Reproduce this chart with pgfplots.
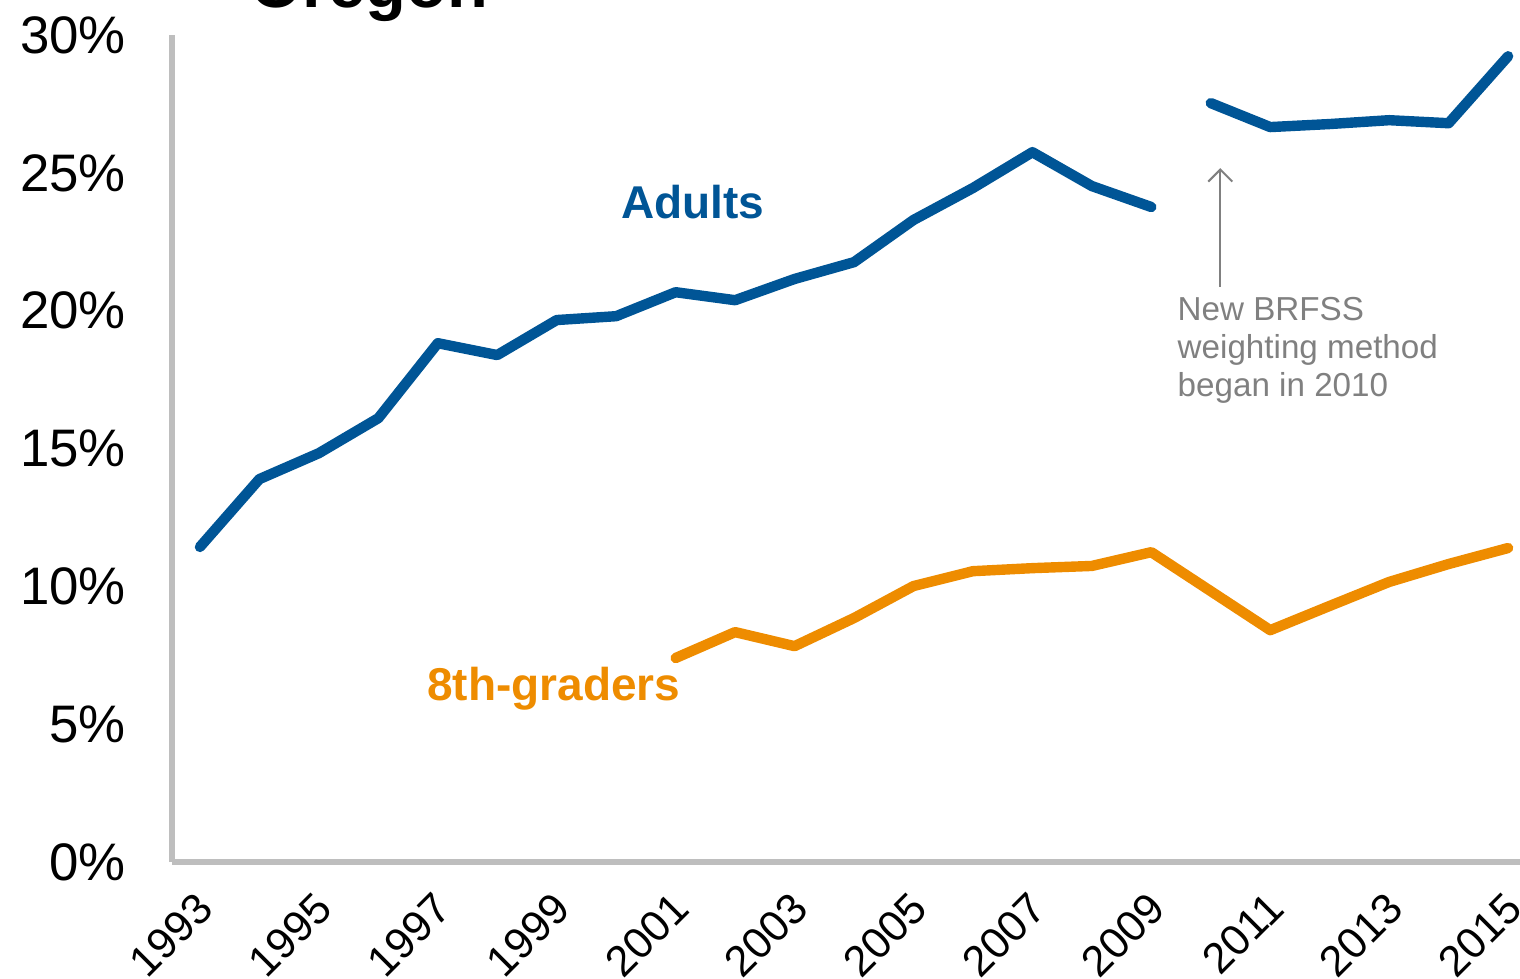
\documentclass[border=0pt]{standalone}
\usepackage{pgfplots}
\pgfplotsset{compat=1.18}
\usepackage{fontspec}
\setmainfont{Liberation Sans}
\usetikzlibrary{arrows.meta}

\definecolor{adultblue}{RGB}{0,85,150}
\definecolor{teenorange}{RGB}{238,140,0}
\definecolor{axisgray}{RGB}{190,190,190}
\definecolor{notegray}{RGB}{128,128,128}

\begin{document}
\begin{tikzpicture}
\begin{axis}[
    at={(0pt,0pt)}, anchor=south west,
    scale only axis,
    width=337pt, height=206.75pt,
    xmin=1992.53, xmax=2015.2,
    ymin=0, ymax=30,
    axis lines*=left,
    axis line style={axisgray, line width=1.3pt},
    major tick length=0pt,
    xtick={1993,1995,...,2015},
    ytick={0,5,...,30},
    /pgf/number format/assume math mode=true,
    /pgf/number format/1000 sep={},
    yticklabel={\pgfmathprintnumber{\tick}\%},
    yticklabel style={font=\fontsize{13.2}{15}\selectfont, anchor=east, xshift=-8pt},
    xticklabel style={font=\fontsize{10.8}{12}\selectfont, inner sep=0pt, xshift=1.5pt, yshift=-9.5pt, rotate=45, anchor=east},
    clip=false,
]
% Adults, before the new weighting method
\addplot[adultblue, line width=2.6pt, line cap=round, line join=round] coordinates {
  (1993,11.43)(1994,13.89)(1995,14.83)(1996,16.10)(1997,18.82)(1998,18.39)
  (1999,19.66)(2000,19.80)(2001,20.67)(2002,20.38)(2003,21.15)(2004,21.76)
  (2005,23.29)(2006,24.45)(2007,25.75)(2008,24.52)(2009,23.76)
};
% Adults, new weighting
\addplot[adultblue, line width=2.6pt, line cap=round, line join=round] coordinates {
  (2010,27.53)(2011,26.66)(2012,26.77)(2013,26.91)(2014,26.80)(2015,29.23)
};
% 8th-graders
\addplot[teenorange, line width=2.6pt, line cap=round, line join=round] coordinates {
  (2001,7.40)(2002,8.34)(2003,7.83)(2004,8.85)(2005,10.01)(2006,10.55)
  (2007,10.66)(2008,10.74)(2009,11.24)(2011,8.41)(2012,9.29)(2013,10.16)
  (2014,10.81)(2015,11.39)
};

\node[adultblue, font=\fontsize{11.5}{13}\selectfont\bfseries] at (axis cs:2001.29,23.94) {Adults};
\node[teenorange, font=\fontsize{11.5}{13}\selectfont\bfseries] at (axis cs:1998.95,6.28) {8th-graders};

\draw[notegray, line width=0.5pt, -{Straight Barb[length=3pt,width=6pt]}] (axis cs:2010.16,20.86) -- (axis cs:2010.16,25.17);
\node[notegray, font=\fontsize{8.3}{9.5}\selectfont, align=left, anchor=west, inner sep=0pt] at (axis cs:2009.43,18.57)
  {New BRFSS\\weighting method\\began in 2010};
\end{axis}
\node[font=\fontsize{16.7}{18}\selectfont\bfseries, anchor=base west, inner sep=0pt] at (19.5pt,213.75pt) {Oregon};
\pgfresetboundingbox
\useasboundingbox (-43pt,-29pt) rectangle (337pt,215.5pt);
\end{tikzpicture}
\end{document}
